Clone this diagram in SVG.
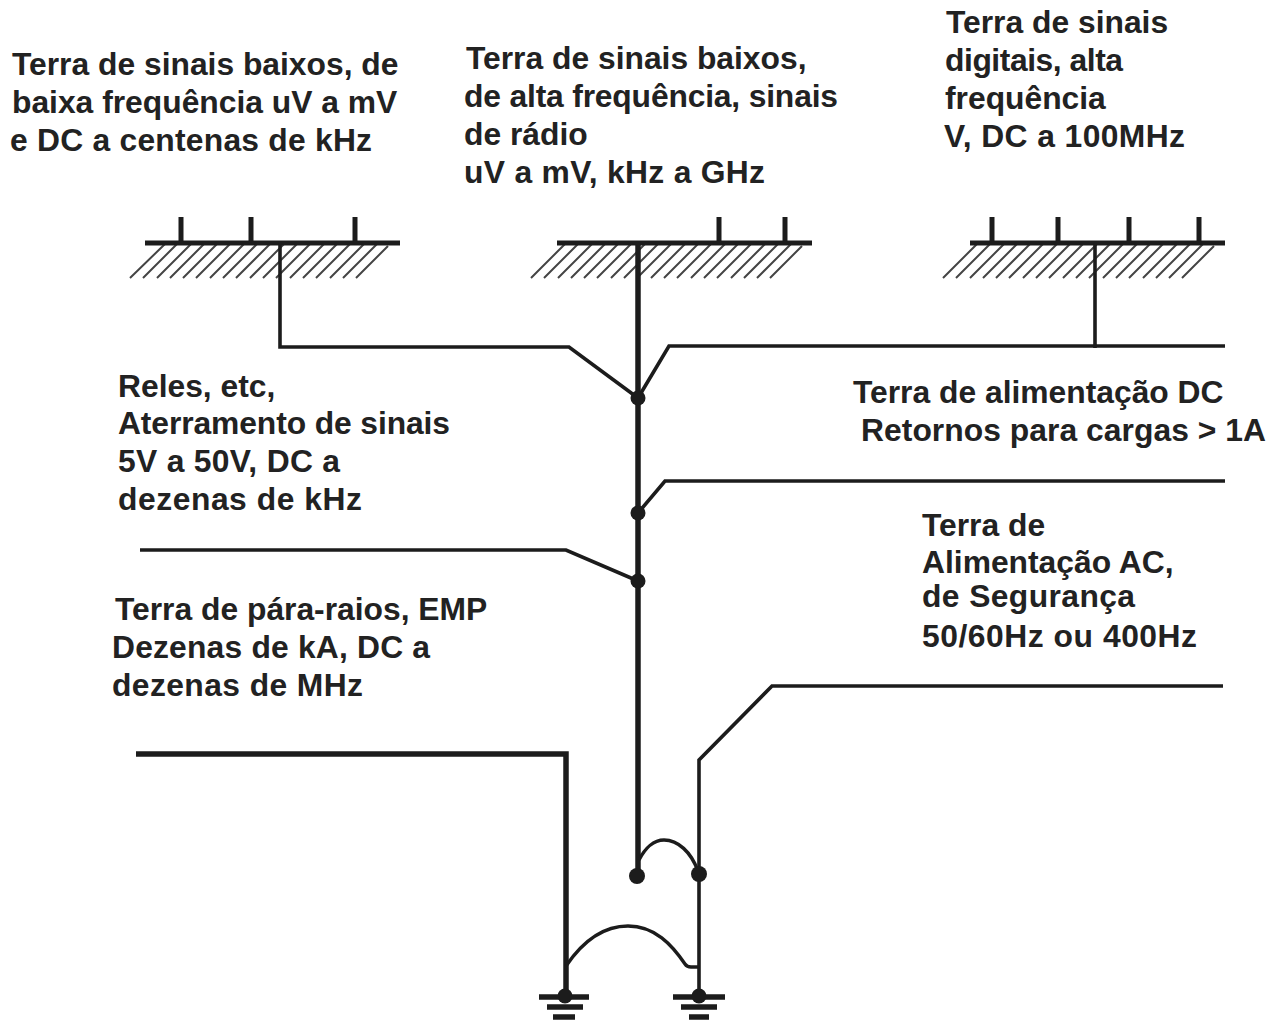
<svg xmlns="http://www.w3.org/2000/svg" width="1271" height="1023" viewBox="0 0 1271 1023">
<style>
text{font-family:"Liberation Sans",Arial,sans-serif;font-weight:bold;font-size:31.8px;fill:#222}
.w{fill:none;stroke:#1c1c1c;stroke-width:3.6}
.t{fill:none;stroke:#1c1c1c;stroke-width:5.5}
.m{fill:none;stroke:#1c1c1c;stroke-width:5}
.a{fill:none;stroke:#1c1c1c;stroke-width:3.4}
.h{fill:none;stroke:#444;stroke-width:2}
.g{fill:none;stroke:#1c1c1c;stroke-width:5.5}
.d{fill:#1c1c1c}
</style>
<rect width="1271" height="1023" fill="#fff"/>
<g id="bus-low">
<path class="h" d="M130 278L165 244M143 278L177 244M157 278L191 244M170 278L204 244M183 278L217 244M196 278L230 244M210 278L244 244M223 278L257 244M236 278L270 244M250 278L284 244M263 278L297 244M276 278L310 244M290 278L324 244M303 278L337 244M316 278L350 244M330 278L364 244M343 278L377 244M356 278L388 246"/>
<path class="m" d="M145 243H400M181 217V243M251 217V243M355 217V243"/>
<text x="12" y="75">Terra de sinais baixos, de</text>
<text x="12" y="113">baixa frequência uV a mV</text>
<text x="10" y="151" textLength="362">e DC a centenas de kHz</text>
</g>
<g id="bus-high">
<path class="h" d="M531 278L565 244M544 278L578 244M558 278L592 244M571 278L605 244M584 278L618 244M597 278L631 244M611 278L645 244M624 278L658 244M637 278L671 244M651 278L685 244M664 278L698 244M677 278L711 244M691 278L725 244M704 278L738 244M717 278L751 244M731 278L765 244M744 278L778 244M757 278L791 244M770 278L802 246"/>
<path class="m" d="M557 243H812M719 217V243M785 217V243"/>
<text x="466" y="69">Terra de sinais baixos,</text>
<text x="464" y="107" textLength="374">de alta frequência, sinais</text>
<text x="464" y="145">de rádio</text>
<text x="464" y="183" textLength="301">uV a mV, kHz a GHz</text>
</g>
<g id="bus-digital">
<path class="h" d="M943 278L977 244M956 278L990 244M970 278L1004 244M983 278L1017 244M996 278L1030 244M1009 278L1043 244M1023 278L1057 244M1036 278L1070 244M1049 278L1083 244M1063 278L1097 244M1076 278L1110 244M1089 278L1123 244M1103 278L1137 244M1116 278L1150 244M1129 278L1163 244M1143 278L1177 244M1156 278L1190 244M1169 278L1203 244M1182 278L1214 246"/>
<path class="m" d="M970 243H1225M992 217V243M1058 217V243M1129 217V243M1199 217V243"/>
<text x="946" y="33">Terra de sinais</text>
<text x="945" y="71" textLength="178">digitais, alta</text>
<text x="945" y="109">frequência</text>
<text x="944" y="147" textLength="241">V, DC a 100MHz</text>
</g>
<g id="relay-label">
<text x="118" y="397">Reles, etc,</text>
<text x="118" y="434" textLength="332">Aterramento de sinais</text>
<text x="118" y="472" textLength="222">5V a 50V, DC a</text>
<text x="118" y="510" textLength="244">dezenas de kHz</text>
</g>
<g id="dc-label">
<text x="853" y="403">Terra de alimentação DC</text>
<text x="861" y="441" textLength="405">Retornos para cargas &gt; 1A</text>
</g>
<g id="ac-label">
<text x="922" y="536">Terra de</text>
<text x="922" y="573">Alimentação AC,</text>
<text x="922" y="607" textLength="213">de Segurança</text>
<text x="922" y="647" textLength="275">50/60Hz ou 400Hz</text>
</g>
<g id="lightning-label">
<text x="115" y="620">Terra de pára-raios, EMP</text>
<text x="112" y="658" textLength="318">Dezenas de kA, DC a</text>
<text x="112" y="696" textLength="251">dezenas de MHz</text>
</g>
<g id="connectors">
<path class="t" d="M638 243V876"/>
<path class="w" d="M280 243V347H569L638 398"/>
<path class="w" d="M1225 346H669L638 398M1095 243V348"/>
<path class="w" d="M1225 481H665L638 513"/>
<path class="w" d="M140 550H566L638 581"/>
<path class="w" d="M1223 686H772L699 760V996"/>
<path class="t" d="M136 754H566V996"/>
<path class="a" d="M639 860C645 848 654 840 664 840C678 840 691 852 698 871"/>
<path class="a" d="M566 966C585 938 605 926 628 926C655 926 672 945 685 964Q687 967 691 967H699"/>
</g>
<g id="junctions">
<circle class="d" cx="638" cy="398" r="7.5"/>
<circle class="d" cx="638" cy="513" r="7.5"/>
<circle class="d" cx="638" cy="581" r="7.5"/>
<circle class="d" cx="637" cy="876" r="8"/>
<circle class="d" cx="699" cy="874" r="8"/>
</g>
<g id="ground-left">
<circle class="d" cx="565" cy="996" r="7.5"/>
<path class="g" d="M539 997H589M547 1007H583M553 1017H575"/>
</g>
<g id="ground-right">
<circle class="d" cx="699" cy="996" r="7.5"/>
<path class="g" d="M673 997H725M681 1007H717M689 1017H709"/>
</g>
</svg>
